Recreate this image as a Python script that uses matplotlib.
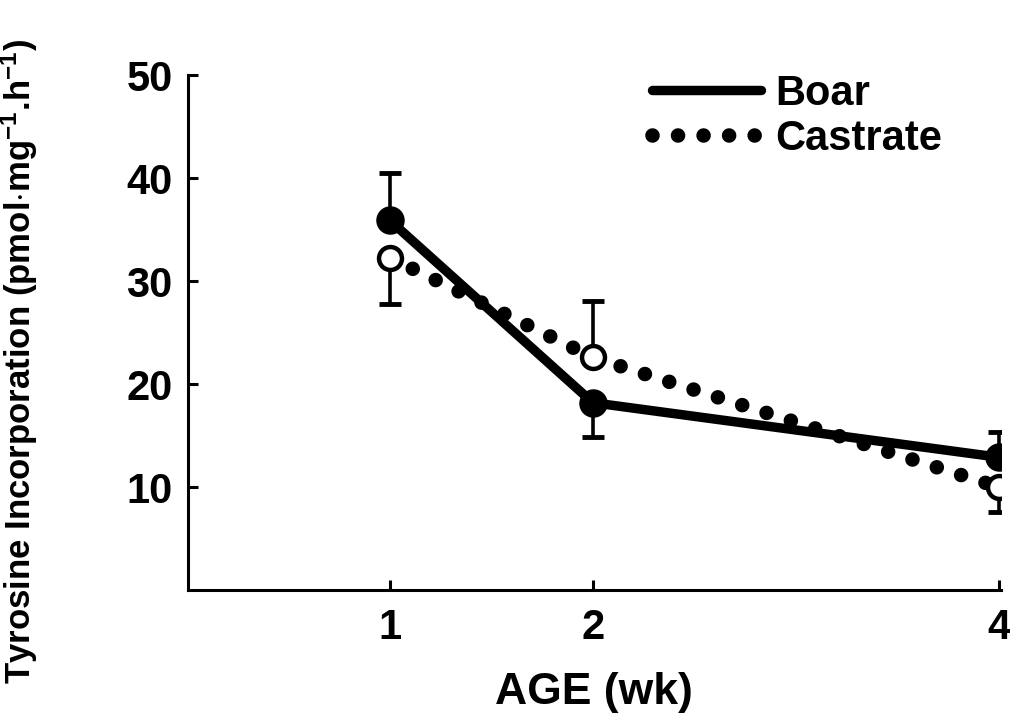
import matplotlib
matplotlib.use('Agg')
import matplotlib.pyplot as plt

plt.rcParams['font.family'] = ['Liberation Sans', 'DejaVu Sans']
plt.rcParams['font.weight'] = 'bold'
plt.rcParams['mathtext.fontset'] = 'custom'
plt.rcParams['mathtext.rm'] = 'Liberation Sans:bold'
plt.rcParams['mathtext.it'] = 'Liberation Sans:bold'
plt.rcParams['mathtext.bf'] = 'Liberation Sans:bold'

# Data
age = [1, 2, 4]
boar = [35.9, 18.2, 12.9]
castrate = [32.3, 22.6, 10.0]
# error bar end points (one-sided bars)
boar_err_end = [40.5, 14.9, 15.4]
castrate_err_end = [27.8, 28.1, 7.6]

x_ticks = [1, 2, 4]
y_ticks = [10, 20, 30, 40, 50]

fig = plt.figure(figsize=(10.1, 7.17), dpi=100)
ax = fig.add_axes([0.186, 0.177, 0.805, 0.718])

# Castrate - dotted line with open circles
ax.plot(age, castrate, color='black', linewidth=10.5, linestyle=(0, (0.001, 1.75)),
        dash_capstyle='round', label='Castrate', zorder=2)
ax.vlines(age, castrate, castrate_err_end, color='black', linewidth=2.6, zorder=3)
ax.plot(age, castrate_err_end, linestyle='none', marker='_', markersize=16,
        markeredgewidth=3.5, color='black', zorder=3)
ax.plot(age, castrate, linestyle='none', marker='o', markersize=16.5,
        markerfacecolor='white', markeredgecolor='black', markeredgewidth=3.2, zorder=4)

# Boar - solid line with filled circles
ax.plot(age, boar, color='black', linewidth=6.8, solid_capstyle='round',
        label='Boar', zorder=5)
ax.vlines(age, boar, boar_err_end, color='black', linewidth=2.6, zorder=5)
ax.plot(age, boar_err_end, linestyle='none', marker='_', markersize=16,
        markeredgewidth=3.5, color='black', zorder=5)
ax.plot(age, boar, linestyle='none', marker='o', markersize=19.5,
        color='black', zorder=6)

ax.set_xlim(0.005, 4.01)
ax.set_ylim(0, 50)
ax.set_xticks(x_ticks)
ax.set_xticklabels([str(t) for t in x_ticks])
ax.set_yticks(y_ticks)
ax.set_yticklabels([str(t) for t in y_ticks])

for side in ['top', 'right']:
    ax.spines[side].set_visible(False)
for side in ['left', 'bottom']:
    ax.spines[side].set_linewidth(2.2)

ax.tick_params(axis='both', direction='in', length=7, width=2.2, labelsize=30)
ax.tick_params(axis='x', pad=13)
ax.tick_params(axis='y', pad=11)

ax.set_xlabel('AGE (wk)', fontsize=32, fontweight='bold', labelpad=17)
ax.set_ylabel(r'Tyrosine Incorporation (pmol$\cdot$mg$^{-1}$.h$^{-1}$)',
              fontsize=25, fontweight='bold')
ax.yaxis.set_label_coords(-0.182, 0.445)

handles, labels = ax.get_legend_handles_labels()
ax.legend(handles[::-1], labels[::-1], loc='upper right', frameon=False,
          fontsize=30, handlelength=2.6, handletextpad=0.35, labelspacing=0.12,
          bbox_to_anchor=(0.948, 1.035), borderaxespad=0)

fig.savefig('out.png', dpi=100)
